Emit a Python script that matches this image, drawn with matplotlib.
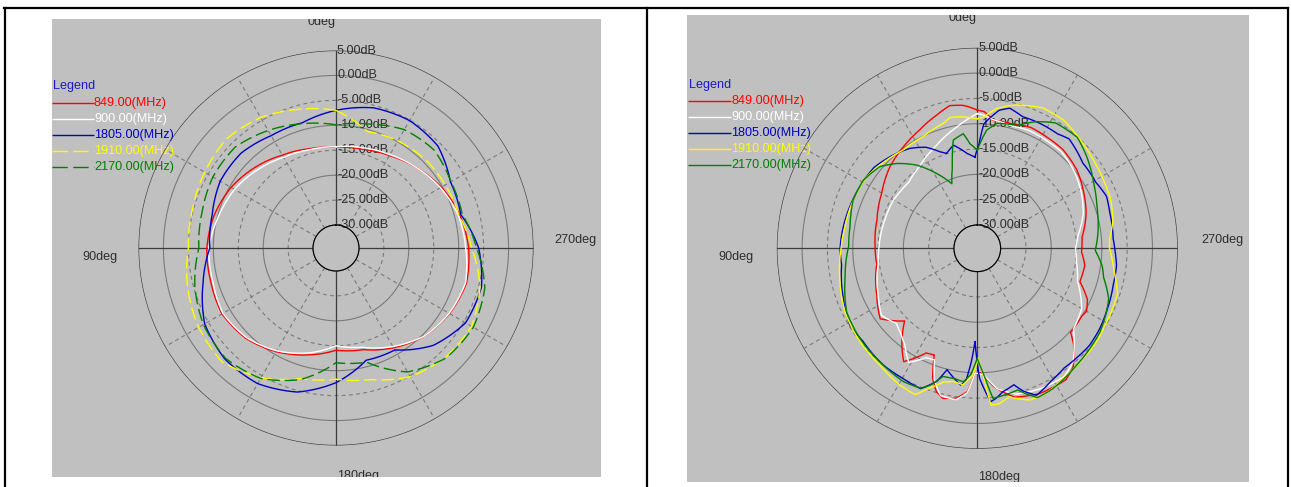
import numpy as np
import matplotlib.pyplot as plt
from matplotlib.lines import Line2D

plt.rcParams["font.family"] = ["Liberation Sans", "DejaVu Sans"]
plt.rcParams["lines.scale_dashes"] = False

W, H = 1291, 487
FS = 9.1

labels = ["849.00(MHz)", "900.00(MHz)", "1805.00(MHz)", "1910.00(MHz)", "2170.00(MHz)"]
colors = ["#ff0000", "#ffffff", "#0000c8", "#ffff00", "#008000"]
ring_db = [5, 0, -5, -10, -15, -20, -25, -30]

# left chart, every 15 deg
ang_a = list(range(0, 360, 15))
a_849 = [-14.4, -14.0, -13.1, -11.7, -10.3, -9.3, -8.7, -8.6, -8.2, -9.0, -10.6, -12.4,
         -14.1, -13.5, -11.5, -9.6, -8.3, -7.5, -8.0, -8.9, -10.2, -11.8, -13.2, -14.1]
a_900 = [-14.3, -14.2, -13.6, -12.4, -11.1, -10.2, -9.1, -9.0, -8.4, -9.2, -10.8, -12.8,
         -15.0, -14.0, -11.8, -9.6, -8.4, -7.7, -8.6, -9.2, -10.4, -11.8, -13.0, -13.8]
a_1805 = [-7.0, -8.6, -8.6, -7.7, -7.8, -8.9, -9.3, -7.0, -4.2, -3.1, -3.2, -4.7,
          -7.6, -11.3, -11.0, -7.0, -4.6, -4.4, -6.0, -8.7, -8.1, -5.7, -5.1, -5.5]
a_1910 = [-7.0, -5.8, -4.4, -3.6, -4.2, -4.8, -5.0, -3.8, -2.8, -2.3, -4.6, -7.5,
          -8.3, -7.3, -4.8, -3.6, -3.2, -4.7, -7.4, -9.1, -9.3, -9.4, -9.8, -10.4]
a_2170 = [-9.9, -8.8, -7.4, -6.0, -6.1, -6.8, -7.1, -5.3, -3.9, -3.3, -4.4, -7.3,
          -11.6, -10.9, -5.9, -3.4, -2.8, -3.7, -6.4, -8.4, -8.0, -6.8, -7.2, -8.9]

# right chart, read where the traces turn
b_849_ang = [0, 4, 6, 11, 17, 26, 36, 47, 60, 74, 88, 99, 115, 126, 135, 138, 142, 147, 154, 158,
             161, 164, 167, 172, 176, 179, 182, 187, 194, 203, 214, 219, 225, 228, 237, 240, 245,
             252, 261, 268, 276, 288, 299, 308, 319, 328, 336, 345, 353, 357]
b_849 = [-7.3, -6.5, -6.2, -5.9, -7.1, -8.6, -9.8, -11.0, -12.8, -14.0, -14.4, -14.5, -12.7, -10.9,
         -14.3, -12.6, -10.4, -7.9, -11.6, -11.9, -7.5, -5.2, -4.2, -4.7, -6.2, -10.0, -10.0, -7.0,
         -4.3, -3.4, -3.3, -4.5, -7.7, -9.8, -10.0, -9.7, -10.6, -13.3, -13.1, -14.0, -13.8, -12.0,
         -10.7, -9.6, -8.8, -8.7, -8.5, -9.1, -9.1, -7.6]
b_900_ang = [0, 10, 22, 35, 46, 54, 60, 73, 89, 99, 115, 125, 133, 138, 143, 149, 155, 159, 162,
             166, 172, 176, 179, 183, 188, 195, 204, 214, 220, 226, 230, 240, 252, 262, 270, 277,
             288, 299, 308, 319, 328, 336, 345, 353, 357]
b_900 = [-8.0, -10.4, -12.8, -14.8, -15.8, -15.7, -15.5, -15.5, -15.2, -14.8, -13.0, -11.5, -12.8,
         -12.0, -10.8, -8.3, -10.8, -11.0, -7.2, -4.6, -4.4, -6.0, -10.0, -9.6, -6.6, -4.8, -4.2,
         -4.0, -5.2, -8.0, -9.8, -10.8, -13.8, -14.8, -15.2, -14.6, -12.6, -11.2, -10.2, -9.3,
         -9.3, -9.2, -9.5, -9.0, -8.3]
b_1805_ang = [1.5, 6, 13, 18, 21, 27, 34, 42, 52, 62, 72, 81, 90, 97, 110, 121, 129, 141, 150,
              158, 163, 166, 173, 175, 177, 178.6, 181, 185, 187, 190, 195, 198, 202, 209, 216,
              222, 229, 237, 244, 255, 263, 269, 274, 285, 292, 299, 309, 320, 325, 333, 341,
              347, 351, 357, 359]
b_1805 = [-16.6, -15.8, -13.7, -14.9, -14.2, -12.2, -10.8, -9.8, -8.7, -8.4, -8.1, -7.8, -7.5,
          -7.6, -6.4, -5.2, -5.5, -5.0, -5.0, -4.7, -7.1, -9.9, -7.4, -8.2, -12.2, -16.2, -8.9,
          -4.2, -4.7, -5.8, -6.7, -4.9, -3.3, -4.6, -5.4, -5.4, -5.3, -5.7, -6.2, -6.8, -6.9,
          -7.4, -7.7, -7.5, -7.1, -7.8, -7.8, -6.4, -7.0, -7.0, -7.1, -6.2, -7.0, -10.0, -13.9]
b_1910_ang = [0, 7.5, 11.7, 15, 26, 37, 46, 57, 69, 81, 90, 102, 116, 128, 140, 150, 157, 161,
              166, 170, 174, 178, 180.5, 183, 185, 188, 192, 199, 204, 210, 217, 224, 232, 240,
              252, 261, 270, 274, 282, 291, 298, 307, 316, 326, 335, 345, 352, 357]
b_1910 = [-9.0, -8.4, -8.2, -9.0, -10.1, -10.3, -9.6, -8.6, -8.3, -8.1, -7.7, -6.8, -5.6, -5.0,
          -4.6, -3.6, -3.2, -5.4, -7.4, -7.9, -7.5, -9.6, -12.9, -8.9, -3.5, -3.6, -4.6, -2.9,
          -2.8, -3.4, -4.1, -4.4, -4.7, -5.2, -5.5, -7.3, -8.5, -8.4, -7.2, -6.5, -6.3, -5.8,
          -5.1, -4.1, -4.0, -5.3, -6.7, -8.6]
b_2170_ang = [0, 4, 7, 12.5, 17, 21.5, 28.5, 36, 43.5, 50, 59, 69, 80, 89, 103, 116, 127, 141,
              151, 158, 161, 165, 170, 174, 177, 180, 183, 186, 190, 196, 198, 202, 208, 219, 228,
              236, 244, 249, 257, 262, 269, 277, 289, 299, 310, 318, 328, 335, 342, 351, 355.5]
b_2170 = [-15.2, -13.9, -11.8, -12.7, -17.8, -20.9, -17.8, -14.3, -11.5, -9.5, -8.4, -8.3, -9.1,
          -9.2, -7.8, -5.9, -5.4, -5.0, -4.5, -4.8, -6.0, -8.4, -8.5, -8.1, -9.6, -12.9, -9.6,
          -4.8, -5.1, -5.5, -4.5, -2.8, -3.1, -4.2, -4.8, -5.3, -6.2, -6.8, -9.0, -9.7, -11.3,
          -10.6, -9.6, -8.3, -6.4, -5.1, -5.4, -7.0, -9.1, -9.6, -11.2]

fig = plt.figure(figsize=(W / 100, H / 100), dpi=100)
fig.patch.set_facecolor("white")


def panel_bg(x0, y0, x1, y1):
    bg = fig.add_axes([x0 / W, 1 - y1 / H, (x1 - x0) / W, (y1 - y0) / H])
    bg.set_facecolor("#c0c0c0")
    bg.set_xlim(x0, x1)
    bg.set_ylim(y1, y0)
    bg.set_xticks([])
    bg.set_yticks([])
    for s in bg.spines.values():
        s.set_visible(False)
    return bg


def polar_panel(cx, cy, rad, rorig):
    ax = fig.add_axes([(cx - rad) / W, 1 - (cy + rad) / H, 2 * rad / W, 2 * rad / H],
                      projection="polar")
    ax.set_theta_zero_location("N")
    ax.set_theta_direction(1)
    ax.set_ylim(-30, 5)
    ax.set_rorigin(rorig)
    ax.set_xticks([])
    ax.set_yticks([])
    ax.grid(False)
    ax.patch.set_alpha(0)
    for s in ax.spines.values():
        s.set_visible(False)

    th = np.linspace(0, 2 * np.pi, 721)
    for r in ring_db:
        if r in (5, -30):
            ax.plot(th, np.full_like(th, r), color="#3c3c3c", lw=0.9, zorder=1)
        elif r % 10 == 0:
            ax.plot(th, np.full_like(th, r), color="#7a7a7a", lw=0.8, zorder=1)
        else:
            ax.plot(th, np.full_like(th, r), color="#7a7a7a", lw=0.8, dashes=(2.8, 2.4), zorder=1)
    for a in range(0, 360, 30):
        t = np.deg2rad(a)
        if a % 90 == 0:
            ax.plot([t, t], [-30, 5], color="#3c3c3c", lw=0.9, zorder=1)
        else:
            ax.plot([t, t], [-30, 5], color="#7a7a7a", lw=0.8, dashes=(2.8, 2.4), zorder=1)
    for r in ring_db:
        ax.annotate(f"{r:.2f}dB", xy=(0, r), xytext=(1, 0), textcoords="offset pixels",
                    ha="left", va="center", fontsize=FS, color="#2e2e2e", zorder=2,
                    annotation_clip=False)
    return ax


def draw_trace(ax, ang, vals, color, dashed=False):
    t = np.deg2rad(np.append(ang, ang[0] + 360))
    v = np.append(vals, vals[0])
    kw = {"dashes": (9, 3.5)} if dashed else {}
    line, = ax.plot(t, v, color=color, lw=1.0, zorder=3, **kw)
    # let the polar transform bend each segment along the angle, like the gridlines
    line.get_path()._interpolation_steps = 12


def legend_block(bg, x0, x1, ytitle, rows, dashed):
    bg.text(x0 + 1, ytitle, "Legend", color="#1a1acc", fontsize=FS, ha="left", va="center")
    for y, lab, c, d in zip(rows, labels, colors, dashed):
        kw = {"dashes": (11, 4)} if d else {}
        bg.plot([x0, x1], [y, y], color=c, lw=1.0, solid_capstyle="butt", **kw)
        bg.text(x1, y, lab, color=c, fontsize=FS, ha="left", va="center")


def deg_labels(bg, cx, cy, top_base, bot_base, dx90, dx270):
    kw = dict(fontsize=FS, color="#2e2e2e", clip_on=True)
    bg.text(cx - 15, top_base, "0deg", ha="center", va="baseline", **kw)
    bg.text(cx + 22, bot_base, "180deg", ha="center", va="baseline", **kw)
    bg.text(cx + dx90, cy + 9, "90deg", ha="center", va="center", **kw)
    bg.text(cx + dx270, cy - 8, "270deg", ha="center", va="center", **kw)


# left chart
bg1 = panel_bg(52, 19, 601, 477)
ax1 = polar_panel(336, 248, 197.5, -34.6)
left = [(a_849, False), (a_900, False), (a_1805, False), (a_1910, True), (a_2170, True)]
for (vals, d), c in zip(left, colors):
    draw_trace(ax1, ang_a, vals, c, d)
legend_block(bg1, 52, 94, 86, [103, 119, 135, 151, 167], [False, False, False, True, True])
deg_labels(bg1, 336, 248, 25, 478.5, -236, 239)

# right chart
bg2 = panel_bg(687, 15, 1249, 482)
ax2 = polar_panel(977.3, 248.3, 200.5, -34.6)
right = [(b_849_ang, b_849), (b_900_ang, b_900), (b_1805_ang, b_1805),
         (b_1910_ang, b_1910), (b_2170_ang, b_2170)]
for (ang, vals), c in zip(right, colors):
    draw_trace(ax2, ang, vals, c)
legend_block(bg2, 688, 731, 85, [101, 117, 133, 149, 165], [False] * 5)
deg_labels(bg2, 977.3, 248.3, 21, 480, -241, 245)

# table frame
frame = [((4.5, 4.5), (7.5, 487)), ((4, 1288), (7.5, 7.5)),
         ((647, 647), (7.5, 487)), ((1287.5, 1287.5), (7.5, 487))]
for xs, ys in frame:
    fig.add_artist(Line2D([x / W for x in xs], [1 - y / H for y in ys],
                          transform=fig.transFigure, color="black", lw=1.6))

fig.savefig("out.png", dpi=100, facecolor="white")
